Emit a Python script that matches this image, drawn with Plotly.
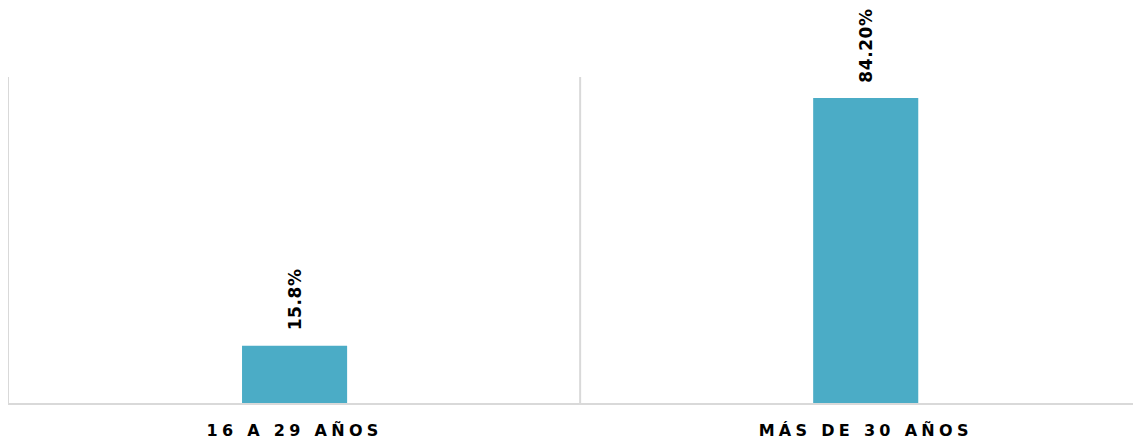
import plotly.graph_objects as go

categories = ["16 A 29 AÑOS", "MÁS DE 30 AÑOS"]
values = [15.8, 84.2]
value_labels = ["15.8%", "84.20%"]

def spaced(s):
    return '<span style="letter-spacing:4.3px">' + s + '</span>'

x_pos = list(range(len(categories)))

fig = go.Figure()
fig.add_trace(go.Bar(
    x=x_pos, y=values, width=0.184,
    marker=dict(color="#4BACC6", line=dict(width=0)),
    hoverinfo="skip",
))

for xi, v, lab in zip(x_pos, values, value_labels):
    fig.add_annotation(
        x=xi, y=v, text='<b><span style="letter-spacing:0.6px">' + lab + "</span></b>",
        textangle=-90,
        showarrow=False, yanchor="bottom", xanchor="center", yshift=13,
        font=dict(family="DejaVu Sans", size=17, color="#000000"),
    )

# separator between categories
fig.add_shape(type="line", xref="x", yref="y", x0=0.5, x1=0.5, y0=0, y1=90,
              line=dict(color="#d9d9d9", width=2), layer="below")

fig.update_layout(
    width=1133, height=431,
    margin=dict(l=1, r=0, t=69, b=36),
    paper_bgcolor="white", plot_bgcolor="white",
    showlegend=False,
    xaxis=dict(
        range=[-0.5, 1.482], tickmode="array", tickvals=x_pos,
        ticktext=["<b>" + spaced(c) + "</b>" for c in categories],
        showgrid=False, zeroline=False,
        showline=True, linecolor="#d9d9d9", linewidth=2,
        ticks="", ticklabelstandoff=12,
        tickfont=dict(family="DejaVu Sans", size=16, color="#000000"),
    ),
    yaxis=dict(
        range=[0, 90], showgrid=False, zeroline=False, showticklabels=False,
        showline=True, linecolor="#d9d9d9", linewidth=2, ticks="",
    ),
)

fig.write_html("out.html")
